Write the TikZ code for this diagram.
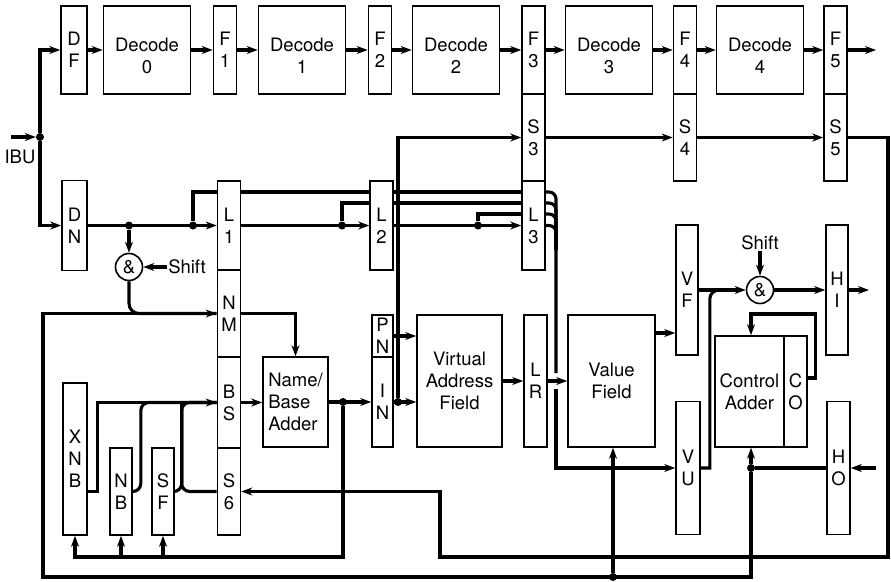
\documentclass[tikz,border=0pt]{standalone}
\usepackage{fontspec}
\setmainfont{TeX Gyre Heros}
\usepackage{tikz}
\usetikzlibrary{arrows.meta, calc, backgrounds}

\begin{document}
\begin{tikzpicture}[
    x=1pt, y=-1pt,
    reg/.style={rectangle, draw, line width=1.6pt, fill=white, inner sep=0pt,
                align=center, minimum width=23pt, font=\fontsize{18.5}{22}\selectfont},
    block/.style={reg, minimum width=87pt, minimum height=88pt},
    gate/.style={circle, draw, line width=1.6pt, fill=white, inner sep=0pt,
                 minimum size=27pt, font=\fontsize{18.5}{22}\selectfont},
    dot/.style={circle, fill, inner sep=0pt, minimum size=8pt},
    lbl/.style={inner sep=1pt, font=\fontsize{18.5}{22}\selectfont},
    bus/.style={line width=3.1pt},
    arrow/.style={bus, -{Stealth[length=11pt, width=8pt]}}
]
    \useasboundingbox (0,0) rectangle (891,581);

    % Decode pipeline
    \node[reg, minimum width=26pt, minimum height=88pt] (df) at (74,50) {D\\F};
    \node[block] (dec0) at (147,50)   {\rule{0pt}{25pt}Decode\\0};
    \node[reg, minimum height=88pt] (f1) at (225,50)   {F\\1};
    \node[block] (dec1) at (302,50)   {\rule{0pt}{25pt}Decode\\1};
    \node[reg, minimum height=88pt] (f2) at (380,50)   {F\\2};
    \node[block] (dec2) at (456,50)   {\rule{0pt}{25pt}Decode\\2};
    \node[reg, minimum height=88pt] (f3) at (533.5,50) {F\\3};
    \node[block] (dec3) at (609,50)   {\rule{0pt}{25pt}Decode\\3};
    \node[reg, minimum height=88pt] (f4) at (685,50)   {F\\4};
    \node[block] (dec4) at (760,50)   {\rule{0pt}{25pt}Decode\\4};
    \node[reg, minimum height=88pt] (f5) at (835.5,50) {F\\5};

    \node[reg, minimum height=87pt] (s3) at (533.5,137.5) {S\\3};
    \node[reg, minimum height=87pt] (s4) at (685,137.5)   {S\\4};
    \node[reg, minimum height=87pt] (s5) at (835.5,137.5) {S\\5};

    % Name side
    \node[reg, minimum width=25pt, minimum height=90pt] (dn) at (74.5,225.5) {D\\N};
    \node[reg, minimum height=89pt] (l1) at (229,225.5)   {L\\1};
    \node[reg, minimum height=87pt] (nm) at (229,313.5)   {N\\M};
    \node[reg, minimum height=91pt] (bs) at (229,402.5)   {B\\S};
    \node[reg, minimum height=87pt] (s6) at (229,491.5)   {S\\6};
    \node[reg, minimum height=89pt] (l2) at (381.5,225.5) {L\\2};
    \node[reg, minimum height=89pt] (l3) at (533.5,225.5) {L\\3};

    \node[reg, minimum width=24pt, minimum height=152pt] (xnb) at (75,459) {X\\N\\B};
    \node[reg, minimum width=22pt, minimum height=87pt] (nb) at (121,491.5) {N\\B};
    \node[reg, minimum width=22pt, minimum height=87pt] (sf) at (163,491.5) {S\\F};

    \node[reg, minimum width=65pt, minimum height=90pt, align=left] (nba) at (295.5,402) {Name/\\Base\\Adder};
    \node[reg, minimum width=21pt, minimum height=42pt] (pn) at (382.5,336) {P\\N};
    \node[reg, minimum width=21pt, minimum height=90pt] (inreg) at (382.5,402) {I\\N};
    \node[reg, minimum width=85pt, minimum height=132pt] (vaf) at (459.5,381) {Virtual\\Address\\Field};
    \node[reg, minimum height=132pt] (lr) at (535.5,381) {L\\R};
    \node[reg, minimum width=87pt, minimum height=132pt] (vfld) at (611.5,381) {Value\\Field};

    % Value side
    \node[reg, minimum width=22pt, minimum height=130pt] (vf) at (687,290) {V\\F};
    \node[reg, minimum width=24pt, minimum height=133pt] (vu) at (688,468) {V\\U};
    \node[reg, minimum width=22pt, minimum height=130pt] (hi) at (837,290) {H\\I};
    \node[reg, minimum width=23pt, minimum height=133pt] (ho) at (838.5,468) {H\\O};
    \node[reg, minimum width=69pt, minimum height=111pt] (cadd) at (749.5,391.5) {Control\\Adder};
    \node[reg, minimum width=23pt, minimum height=111pt] (co) at (795.5,391.5) {C\\O};

    \node[gate] (andl) at (129,267) {\&};
    \node[gate] (andr) at (760,290) {\&};
    \node[lbl] (shl) at (187,267) {Shift};
    \node[lbl] (shr) at (760,243) {Shift};
    \node[lbl] (ibulab) at (20,157) {IBU};

    \node[dot] (ibu) at (40,137) {};
    \node[dot] (da)  at (129,225.5) {};
    \node[dot] (db)  at (193,225.5) {};
    \node[dot] (dl2) at (342,225.5) {};
    \node[dot] (dl3) at (478,225.5) {};
    \node[dot] (dnb) at (343,402) {};
    \node[dot] (din) at (398,402) {};
    \node[dot] (dho) at (751,468) {};
    \node[dot] (dvf) at (613,577) {};

    \coordinate (ibuin) at (11,137);
    \coordinate (out5)  at (876,50);
    \coordinate (hiout) at (869,290);
    \coordinate (hoin)  at (876,468);
    \coordinate (rt)    at (888,557);
    \coordinate (jog)   at (440,491.5);
    \coordinate (bl)    at (43,577);
    \coordinate (vtop)  at (556,250);
    \coordinate (gapt)  at (556,373);
    \coordinate (gapb)  at (556,389);
    \coordinate (cfb)   at (751,314);

    \begin{pgfonlayer}{background}
    % input and decode chain
    \draw[arrow] (ibuin) -- (ibu);
    \draw[arrow] (ibu) |- (df.west);
    \draw[arrow] (ibu) |- (dn.west);
    \foreach \a/\b in {df/dec0, dec0/f1, f1/dec1, dec1/f2, f2/dec2, dec2/f3,
                       f3/dec3, dec3/f4, f4/dec4, dec4/f5}
        \draw[arrow] (\a) -- (\b);
    \draw[arrow] (f5) -- (out5);
    \draw[arrow] (s3) -- (s4);
    \draw[arrow] (s4) -- (s5);
    \draw[arrow] (s5.east) -| (rt) -| (jog) -- (s6.east);

    % L registers
    \draw[arrow] (dn.east) -- (dn.east -| l1.west);
    \draw[arrow] (l1) -- (l2);
    \draw[arrow] (l2) -- (l3);
    \draw[bus] (db) |- (l3.west |- 0,192);
    \draw[bus] (dl2) |- (l3.west |- 0,203);
    \draw[bus] (dl3) |- (l3.west |- 0,214);
    \draw[bus, rounded corners=7] (l3.east) -| (gapt);
    \foreach \yy in {192,203,214}
        \draw[bus, rounded corners=7] (l3.east |- 0,\yy) -| (vtop);
    \draw[arrow] (gapb) |- (vu.west);

    % shift gate and name loop
    \draw[arrow] (da) -- (andl.north);
    \draw[arrow] (shl) -- (andl);
    \draw[bus, rounded corners=10] (andl.south) |- (nm.west);
    \draw[arrow] (nm.east) -| (nba.north);
    \draw[arrow] (bs.east) -- (bs.east -| nba.west);
    \draw[arrow] (xnb.east |- sf) -- ++(10,0) |- (bs.west);
    \draw[bus, rounded corners=8] (nb.east) -- ++(8,0) |- (bs.west);
    \draw[bus, rounded corners=8] (sf.east) -| ($(bs.west)+(-35,0)$) -- (bs.west);
    \draw[bus, rounded corners=8] (s6.west) -| ($(bs.west)+(-35,0)$);
    \draw[arrow] (nba.east) -- (inreg.west);
    \draw[arrow] (dnb) |- (xnb.south |- 0,557) -- (xnb.south);
    \draw[arrow] (nb.south |- 0,557) -- (nb.south);
    \draw[arrow] (sf.south |- 0,557) -- (sf.south);

    % address path
    \draw[arrow] (pn.east) -- (pn.east -| vaf.west);
    \draw[arrow] (inreg.east) -- (inreg.east -| vaf.west);
    \draw[arrow] (din) |- (s3.west);
    \draw[arrow] (vaf) -- (lr);
    \draw[arrow] (lr) -- (vfld);

    % value side
    \draw[arrow] (vfld.east |- 0,333) -- (vf.west |- 0,333);
    \draw[arrow] (vf) -- (andr);
    \draw[arrow] (shr) -- (andr);
    \draw[arrow] (andr) -- (hi);
    \draw[arrow] (hi) -- (hiout);
    \draw[bus] (vu.east) -- ++(9,0) [rounded corners=9] |- ($(andr.west)+(-25,0)$);
    \draw[arrow] ([yshift=13.5pt]co.east) -- ++(8,0) |- (cfb) -- (cfb |- cadd.north);
    \draw[arrow] (hoin) -- (ho.east);
    \draw[bus] (ho.west) -- (dho);
    \draw[arrow] (dho) -- (dho |- cadd.south);
    \draw[arrow] (dho) |- (bl) |- (nm.west);
    \draw[arrow] (dvf) -- (dvf |- vfld.south);
    \end{pgfonlayer}
\end{tikzpicture}
\end{document}
